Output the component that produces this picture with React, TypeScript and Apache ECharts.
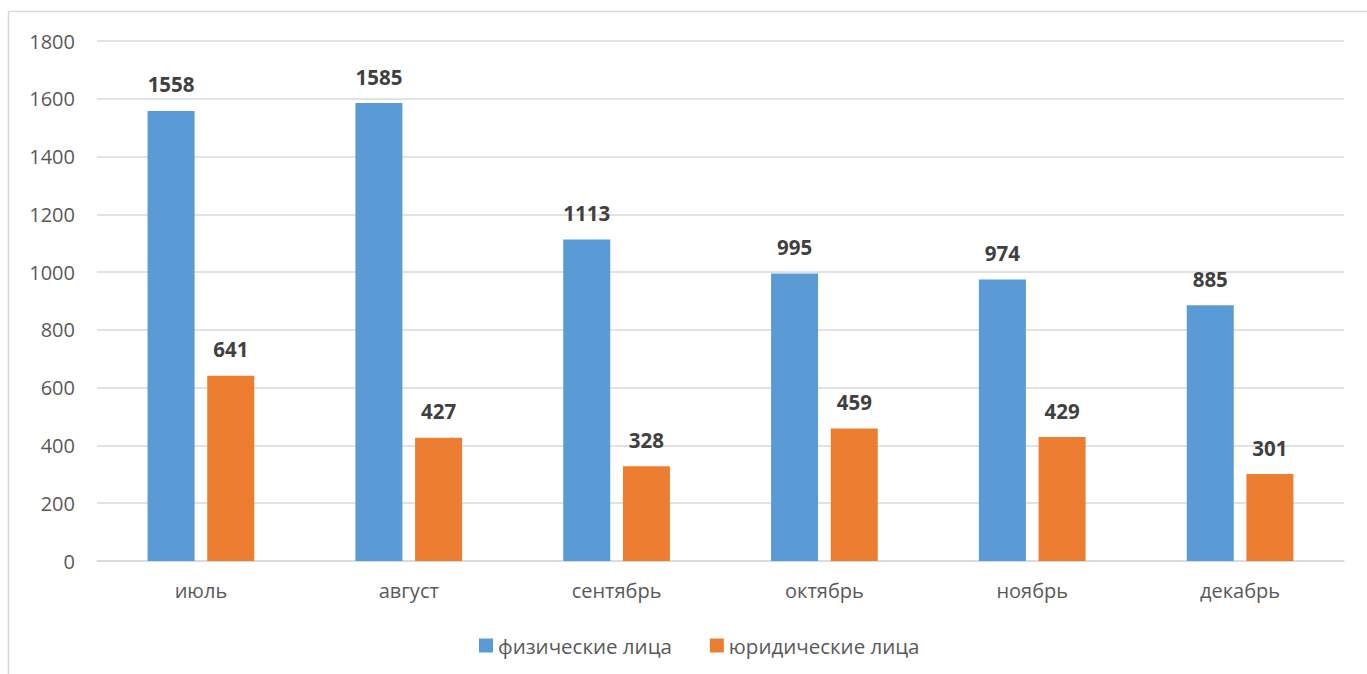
import React, { useEffect, useRef } from "react";
import * as echarts from "echarts";

const categories = ["июль", "август", "сентябрь", "октябрь", "ноябрь", "декабрь"];
const individuals = [1558, 1585, 1113, 995, 974, 885];
const legalEntities = [641, 427, 328, 459, 429, 301];
const seriesNames = ["физические лица", "юридические лица"];

const FONT = "'Open Sans', 'Noto Sans', sans-serif";

export default function App() {
  const ref = useRef<HTMLDivElement>(null);
  useEffect(() => {
    document.body.style.margin = "0";
    const chart = echarts.init(ref.current!, null, { renderer: "svg" });
    const labelStyle = {
      show: true,
      position: "top" as const,
      distance: 16,
      fontFamily: FONT,
      fontSize: 20.5,
      fontWeight: "bold" as const,
      color: "#404040",
    };
    chart.setOption({
      animation: false,
      backgroundColor: "#ffffff",
      textStyle: { fontFamily: FONT },
      graphic: [
        {
          type: "rect",
          shape: { x: 8.5, y: 11.5, width: 1400, height: 700 },
          style: { fill: "none", stroke: "#d9d9d9", lineWidth: 1.5 },
          silent: true,
        },
      ],
      grid: { left: 97, right: 23, top: 41, bottom: 113 },
      legend: {
        data: seriesNames,
        left: 474,
        top: 630,
        icon: "rect",
        itemWidth: 14,
        itemHeight: 14,
        itemGap: 38,
        textStyle: { fontFamily: FONT, fontSize: 20.5, color: "#595959" },
      },
      xAxis: {
        type: "category",
        data: categories,
        axisLine: { lineStyle: { color: "#d9d9d9", width: 1.5 } },
        axisTick: { show: false },
        axisLabel: { fontFamily: FONT, fontSize: 20, color: "#595959", margin: 19 },
      },
      yAxis: {
        type: "value",
        min: 0,
        max: 1800,
        interval: 200,
        axisLine: { show: false },
        axisTick: { show: false },
        splitLine: { lineStyle: { color: "#d9d9d9", width: 1.5 } },
        axisLabel: {
          fontFamily: FONT,
          fontSize: 20,
          color: "#595959",
          margin: 22,
          formatter: (v: number) => String(v),
        },
      },
      series: [
        {
          name: seriesNames[0],
          type: "bar",
          data: individuals,
          barWidth: 47,
          barGap: "27%",
          itemStyle: { color: "#5B9BD5" },
          label: labelStyle,
        },
        {
          name: seriesNames[1],
          type: "bar",
          data: legalEntities,
          barWidth: 47,
          itemStyle: { color: "#ED7D31" },
          label: labelStyle,
        },
      ],
    });
    return () => chart.dispose();
  }, []);
  return (
    <div
      ref={ref}
      style={{ position: "absolute", left: 0, top: 0, width: 1367, height: 674 }}
    />
  );
}
